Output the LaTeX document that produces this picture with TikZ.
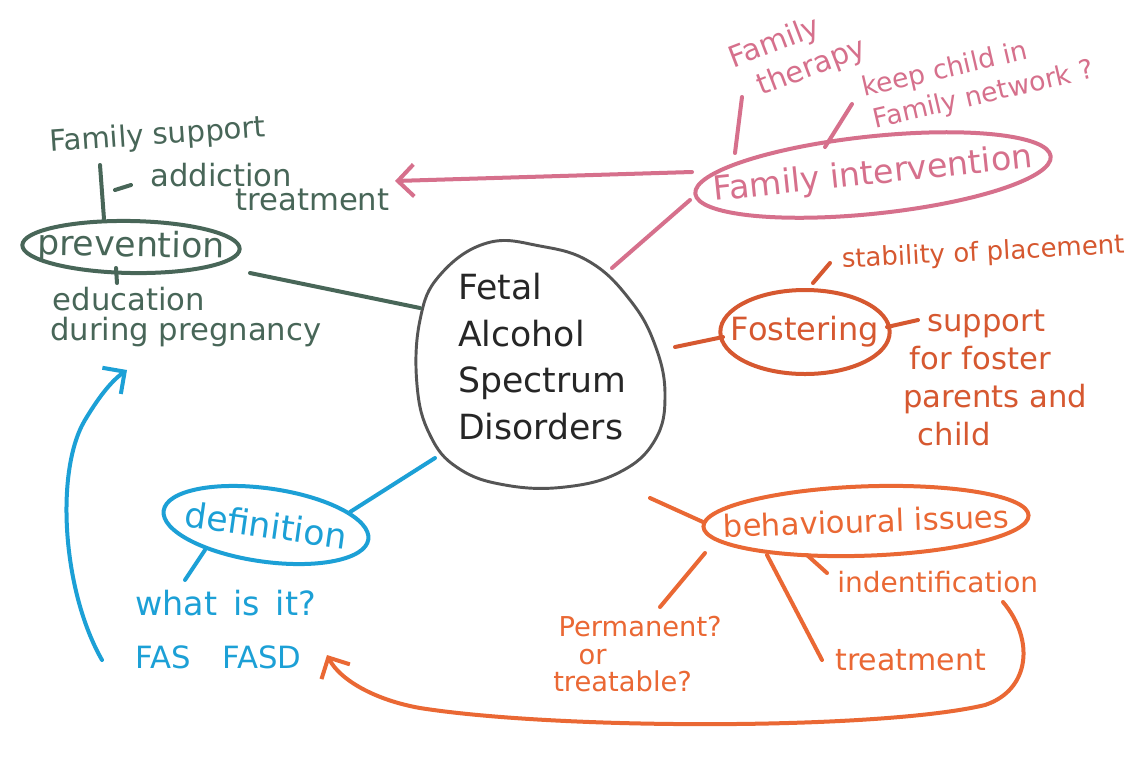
\documentclass[tikz,border=0pt]{standalone}
\usepackage{fontspec}
\setmainfont{DejaVu Sans}
\usetikzlibrary{shapes.geometric,arrows.meta}
\definecolor{cgreen}{RGB}{72,102,88}
\definecolor{cpink}{RGB}{214,112,140}
\definecolor{cfost}{RGB}{214,88,48}
\definecolor{cbeh}{RGB}{234,104,52}
\definecolor{cblue}{RGB}{28,160,214}
\definecolor{cgray}{RGB}{85,85,85}
\newcommand\zw[1]{\makebox[0pt]{#1}}
\begin{document}
\begin{tikzpicture}[x=0.75pt,y=-0.75pt, line cap=round, line join=round,
  bub/.style={ellipse, draw, line width=3pt, inner sep=0pt},
  con/.style={line width=3pt},
  txt/.style={anchor=base west, inner sep=0pt},
  blk/.style={inner sep=0pt, align=left},
  fs/.style={font=\fontsize{#1pt}{#1pt}\selectfont},
  arr/.style={line width=3pt, -{Straight Barb[length=12pt,width=24pt]}}]
\useasboundingbox (0,0) rectangle (1127,758);
\fill[white] (0,0) rectangle (1127,758);

% ---------- centre ----------
\draw[cgray, line width=2.2pt] plot[smooth cycle, tension=0.7] coordinates
 {(487,243) (540,246) (590,262) (630,300) (655,345) (665,395) (655,440) (620,472)
  (565,487) (505,485) (458,468) (430,435) (417,385) (420,320) (440,275)};
\node[blk, anchor=north west, text=black!85,
  font=\fontsize{26pt}{35pt}\selectfont] (fasd) at (458,273)
  {Fetal\\Alcohol\\Spectrum\\Disorders};
\coordinate (cW) at (420,308);
\coordinate (cNE) at (612,268);
\coordinate (cE) at (675,347);
\coordinate (cSE) at (650,498);
\coordinate (cSW) at (435,458);

% ---------- prevention ----------
\node[bub, cgreen, minimum width=163pt, minimum height=39pt, rotate=-1, fs=26] (prev) at (131,247) {\zw{prevention}};
\node[txt, cgreen, fs=22, rotate=4] (fsup) at (50,152) {Family support};
\node[blk, anchor=north west, text=cgreen, font=\fontsize{23pt}{18pt}\selectfont] (addi) at (150,163)
  {addiction\\\hspace*{64pt}treatment};
\node[blk, anchor=north west, text=cgreen, font=\fontsize{23pt}{22.5pt}\selectfont] (educ) at (50,287)
  {\hspace*{2pt}education\\during pregnancy};
\coordinate (p1) at (100,165); \coordinate (p2) at (104,219);
\coordinate (d1) at (115,190); \coordinate (d2) at (131,185);
\coordinate (t1) at (116,268); \coordinate (t2) at (117,283);
\coordinate (pE) at (250,273);
\draw[con, cgreen] (p1) -- (p2);
\draw[con, cgreen] (d1) -- (d2);
\draw[con, cgreen] (t1) -- (t2);
\draw[con, cgreen] (pE) -- (cW);

% ---------- family intervention ----------
\node[bub, cpink, minimum width=268pt, minimum height=58pt, rotate=6, fs=25] (fint) at (873,175) {\zw{Family intervention}};
\node[blk, text=cpink, rotate=21, font=\fontsize{22pt}{27pt}\selectfont] (fam) at (798,54)
  {Family\\\hspace*{12pt}therapy};
\node[blk, text=cpink, rotate=13, font=\fontsize{20pt}{25pt}\selectfont] (keep) at (978,80)
  {keep child in\\\hspace*{3pt}Family network ?};
\coordinate (f1) at (742,97); \coordinate (f2) at (735,153);
\coordinate (k1) at (852,104); \coordinate (k2) at (825,147);
\coordinate (fiW) at (692,172); \coordinate (fiSW) at (690,200);
\coordinate (arrT) at (395,181);
\draw[con, cpink] (f1) -- (f2);
\draw[con, cpink] (k1) -- (k2);
\draw[con, cpink] (cNE) -- (fiSW);
\draw[arr, cpink] (fiW) -- (arrT);

% ---------- fostering ----------
\node[bub, cfost, minimum width=127pt, minimum height=63pt, fs=24] (fost) at (805,332) {\zw{Fostering}};
\node[txt, cfost, fs=19.5, rotate=3] (stab) at (842,268) {stability of placement};
\node[blk, anchor=north west, text=cfost,
  font=\fontsize{23pt}{28.5pt}\selectfont] (supp) at (903,310)
  {\hspace*{18pt}support\\\hspace*{5pt}for foster\\parents and\\\hspace*{11pt}child};
\coordinate (s1) at (813,283); \coordinate (s2) at (830,263);
\coordinate (fW) at (723,337);
\coordinate (fE1) at (887,327); \coordinate (fE2) at (918,320);
\draw[con, cfost] (s1) -- (s2);
\draw[con, cfost] (cE) -- (fW);
\draw[con, cfost] (fE1) -- (fE2);

% ---------- definition ----------
\node[bub, cblue, minimum width=155pt, minimum height=55pt, rotate=-8, fs=26] (def) at (266,525) {\zw{definition}};
\node[blk, anchor=north west, text=cblue, font=\fontsize{25pt}{40pt}\selectfont] (what) at (135,590)
  {what\hspace{12pt}is\hspace{12pt}it?\\\fontsize{23pt}{40pt}\selectfont FAS\hspace{24pt}FASD};
\coordinate (dE) at (350,512);
\coordinate (w1) at (205,550); \coordinate (w2) at (185,580);
\coordinate (bS) at (102,660); \coordinate (bT) at (127,370);
\draw[con, cblue] (dE) -- (cSW);
\draw[con, cblue] (w1) -- (w2);
\draw[arr, cblue] (bS) .. controls (62,590) and (55,470) .. (85,420)
   .. controls (97,400) and (110,382) .. (bT);

% ---------- behavioural issues ----------
\node[bub, cbeh, minimum width=244pt, minimum height=52pt, rotate=2, fs=23] (beh) at (866,521) {\zw{behavioural issues}};
\node[txt, cbeh, fs=21] (ident) at (837,592) {indentification};
\node[txt, cbeh, fs=22.5] (treat2) at (835,670) {treatment};
\node[blk, anchor=north west, text=cbeh, font=\fontsize{20.5pt}{20.6pt}\selectfont] (perm) at (553,616)
  {\hspace*{4pt}Permanent?\\\hspace*{19pt}or\\treatable?};
\coordinate (bW) at (703,522);
\coordinate (b1) at (705,553); \coordinate (b2) at (660,607);
\coordinate (b3) at (767,555); \coordinate (b4) at (822,660);
\coordinate (b5) at (807,555); \coordinate (b6) at (827,573);
\coordinate (oS) at (1003,602); \coordinate (oT) at (327,655);
\draw[con, cbeh] (cSE) -- (bW);
\draw[con, cbeh] (b1) -- (b2);
\draw[con, cbeh] (b3) -- (b4);
\draw[con, cbeh] (b5) -- (b6);
\draw[arr, cbeh] (oS) .. controls (1035,640) and (1030,690) .. (985,705)
   .. controls (880,730) and (560,730) .. (420,708)
   .. controls (375,700) and (340,680) .. (oT);
\end{tikzpicture}
\end{document}
